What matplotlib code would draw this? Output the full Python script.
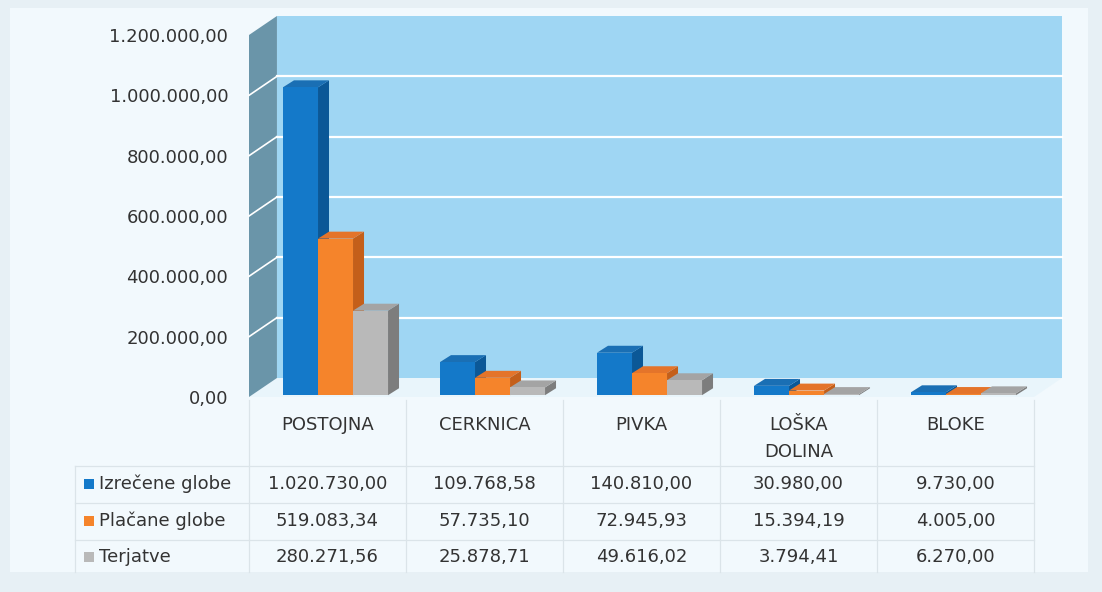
import matplotlib
matplotlib.use("Agg")
import matplotlib.pyplot as plt
from matplotlib.patches import Polygon, Rectangle
from matplotlib.transforms import blended_transform_factory

categories = ["POSTOJNA", "CERKNICA", "PIVKA", "LOŠKA\nDOLINA", "BLOKE"]
series_names = ["Izrečene globe", "Plačane globe", "Terjatve"]
izrecene = [1020730.00, 109768.58, 140810.00, 30980.00, 9730.00]
placane = [519083.34, 57735.10, 72945.93, 15394.19, 4005.00]
terjatve = [280271.56, 25878.71, 49616.02, 3794.41, 6270.00]
y_ticks = [0, 200000, 400000, 600000, 800000, 1000000, 1200000]

series = [izrecene, placane, terjatve]
# front, side, top
colors = [("#1479c9", "#0b5897", "#1a6fb4"),
          ("#f5842b", "#c45f1a", "#e4742a"),
          ("#b9b9b9", "#7d7d7d", "#a4a4a4")]

W, H = 1102, 592


def fmt(v):
    s = f"{v:,.2f}"
    return s.replace(",", "X").replace(".", ",").replace("X", ".")


fig = plt.figure(figsize=(W / 100, H / 100), dpi=100)
fig.patch.set_facecolor("#e7f0f5")
fig.patches.append(Rectangle((10 / W, 1 - 572 / H), 1078 / W, 564 / H,
                             transform=fig.transFigure, facecolor="#f2f9fd",
                             edgecolor="none", zorder=-10))

ax = fig.add_axes([249 / W, 1 - 397 / H, 785 / W, 362 / H])
ax.set_xlim(-0.5, 4.5)
ax.set_ylim(0, 1200000)
ax.patch.set_visible(False)
for sp in ax.spines.values():
    sp.set_visible(False)
ax.set_xticks([])
ax.set_yticks(y_ticks)
ax.set_yticklabels([fmt(t) for t in y_ticks])
ax.tick_params(axis="y", length=0, pad=15, labelsize=13, labelcolor="#333333")

n = len(categories)
x0, x1 = -0.5, n - 0.5
ymax = y_ticks[-1]
DX, DY = 0.178, 63000      # wall depth
bdx, bdy = 0.07, 23000     # bar depth
boff, bw = 0.2166, 0.223
base = 6000

# floor
ax.add_patch(Polygon([(x0, 0), (x1, 0), (x1 + DX, DY), (x0 + DX, DY)],
                     closed=True, facecolor="#e9f5fb", edgecolor="none",
                     clip_on=False, zorder=1))
# back wall
ax.add_patch(Rectangle((x0 + DX, DY), x1 - x0, ymax, facecolor="#9fd6f3",
                       edgecolor="none", clip_on=False, zorder=1))
# side wall
ax.add_patch(Polygon([(x0, 0), (x0, ymax), (x0 + DX, ymax + DY), (x0 + DX, DY)],
                     closed=True, facecolor="#6a95a9", edgecolor="none",
                     clip_on=False, zorder=1))
for t in y_ticks[1:-1]:
    ax.plot([x0 + DX, x1 + DX], [t + DY, t + DY], color="white", lw=1.6,
            clip_on=False, zorder=2)
    ax.plot([x0, x0 + DX], [t, t + DY], color="white", lw=1.2,
            clip_on=False, zorder=2)

# bars
for i in range(n):
    for j, vals in enumerate(series):
        v = vals[i]
        left = i - 0.5 + boff + j * bw
        right = left + bw
        top = base + v
        fc, sc, tc = colors[j]
        z = 3 + j
        ax.add_patch(Polygon([(right, base), (right + bdx, base + bdy),
                              (right + bdx, top + bdy), (right, top)],
                             closed=True, facecolor=sc, edgecolor="none",
                             clip_on=False, zorder=z))
        ax.add_patch(Polygon([(left, top), (right, top), (right + bdx, top + bdy),
                              (left + bdx, top + bdy)],
                             closed=True, facecolor=tc, edgecolor="none",
                             clip_on=False, zorder=z))
        ax.add_patch(Rectangle((left, base), bw, v, facecolor=fc,
                               edgecolor="none", clip_on=False, zorder=z))

# data table below
tr = blended_transform_factory(ax.transData, fig.transFigure)
ftr = fig.transFigure


def fy(p):
    return 1 - p / H


grid_c = "#dbe4e9"
for k in range(n + 1):
    ax.plot([k - 0.5, k - 0.5], [fy(400), fy(572)], transform=tr,
            color=grid_c, lw=0.9, clip_on=False)
fig.lines.append(plt.Line2D([75 / W, 75 / W], [fy(466), fy(572)],
                            transform=ftr, color=grid_c, lw=0.9))
for p in [466, 503, 540]:
    fig.lines.append(plt.Line2D([75 / W, 1034 / W], [fy(p), fy(p)],
                                transform=ftr, color=grid_c, lw=0.9))

for i, c in enumerate(categories):
    for k, line in enumerate(c.split("\n")):
        ax.text(i, fy(425 + 27 * k), line, transform=tr, ha="center",
                va="center", fontsize=13, color="#333333")

row_y = [484, 521, 557]
for j, vals in enumerate(series):
    fig.patches.append(Rectangle((84 / W, fy(row_y[j] + 5)), 10 / W, 10 / H,
                                 transform=ftr, facecolor=colors[j][0],
                                 edgecolor="none"))
    fig.text(99 / W, fy(row_y[j]), series_names[j], ha="left", va="center",
             fontsize=13, color="#333333")
    for i, v in enumerate(vals):
        ax.text(i, fy(row_y[j]), fmt(v), transform=tr, ha="center",
                va="center", fontsize=13, color="#333333")

fig.savefig("out.png", dpi=100, facecolor=fig.get_facecolor())
